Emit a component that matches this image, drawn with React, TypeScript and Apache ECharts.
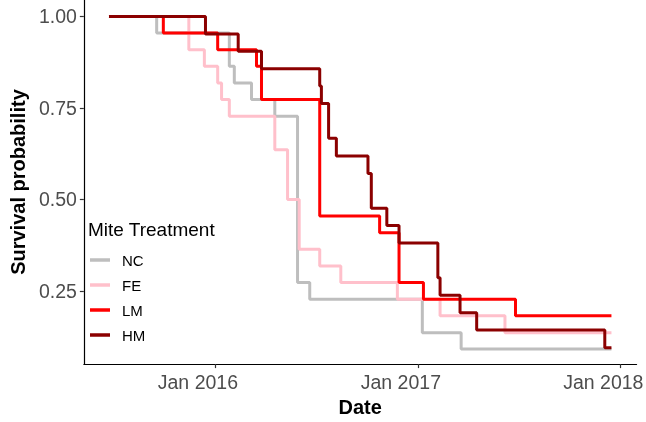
import React, { useEffect, useRef } from "react";
import * as echarts from "echarts";

// Kaplan-Meier step curves: event dates and survival after each event
const GROUPS = ["NC", "FE", "LM", "HM"];
const COLORS = ["#BEBEBE", "#FFC0CB", "#FF0000", "#8B0000"];

const NC_DATES = ["2015-06-24", "2015-09-18", "2016-01-27", "2016-02-05", "2016-03-07", "2016-04-18", "2016-05-29", "2016-06-20", "2017-01-09", "2017-03-20", "2017-12-16"];
const NC_SURV = [1, 0.955, 0.864, 0.818, 0.773, 0.727, 0.273, 0.227, 0.136, 0.091, 0.091];

const FE_DATES = ["2015-06-24", "2015-11-15", "2015-12-13", "2016-01-06", "2016-01-13", "2016-01-27", "2016-04-18", "2016-05-11", "2016-06-01", "2016-07-08", "2016-08-15", "2016-11-25", "2017-02-10", "2017-06-07", "2017-12-16"];
const FE_SURV = [1, 0.909, 0.864, 0.818, 0.773, 0.727, 0.636, 0.5, 0.364, 0.318, 0.273, 0.227, 0.182, 0.136, 0.136];

const LM_DATES = ["2015-06-24", "2015-09-30", "2016-01-06", "2016-03-16", "2016-03-25", "2016-07-08", "2016-10-24", "2016-11-28", "2017-01-11", "2017-06-26", "2017-12-16"];
const LM_SURV = [1, 0.955, 0.909, 0.864, 0.773, 0.455, 0.409, 0.273, 0.227, 0.182, 0.182];

const HM_DATES = ["2015-06-24", "2015-12-15", "2016-02-12", "2016-03-25", "2016-07-08", "2016-07-11", "2016-07-24", "2016-08-07", "2016-10-03", "2016-10-09", "2016-11-06", "2016-11-28", "2017-02-06", "2017-02-10", "2017-03-18", "2017-04-17", "2017-12-04", "2017-12-16"];
const HM_SURV = [1, 0.952, 0.905, 0.857, 0.81, 0.762, 0.667, 0.619, 0.571, 0.476, 0.429, 0.381, 0.286, 0.238, 0.19, 0.143, 0.095, 0.095];

const X_TICKS = ["2016-01-01", "2017-01-01", "2018-01-01"];
const Y_TICKS = [0.25, 0.5, 0.75, 1.0];

const ALL_DATES = [NC_DATES, FE_DATES, LM_DATES, HM_DATES];
const ALL_SURV = [NC_SURV, FE_SURV, LM_SURV, HM_SURV];

const FONT = "'Liberation Sans', Arial, Helvetica, sans-serif";

export default function App() {
  const ref = useRef<HTMLDivElement>(null);
  useEffect(() => {
    if (!ref.current) return;
    const chart = echarts.init(ref.current, undefined, { renderer: "svg" });
    const stamps = ALL_DATES.flat().map((d) => Date.parse(d));
    const tMin = Math.min(...stamps);
    const tMax = Math.max(...stamps);
    const pad = (tMax - tMin) * 0.05;

    const series = GROUPS.map((name, gi) => ({
      name,
      type: "line",
      step: "end",
      showSymbol: false,
      symbol: "none",
      color: COLORS[gi],
      lineStyle: { width: 3, color: COLORS[gi] },
      data: ALL_DATES[gi].map((d, i) => [Date.parse(d), ALL_SURV[gi][i]]),
      z: 2 + gi,
    }));

    chart.setOption({
      animation: false,
      textStyle: { fontFamily: FONT },
      grid: { left: 69, top: 0, width: 571, height: 378, containLabel: false },
      xAxis: {
        type: "value",
        min: tMin - pad,
        max: tMax + pad,
        name: "Date",
        nameLocation: "middle",
        nameGap: 25,
        nameTextStyle: { fontSize: 20, fontWeight: "bold", color: "#000", fontFamily: FONT },
        splitLine: { show: false },
        axisLine: { lineStyle: { color: "#000", width: 1.2 } },
        axisTick: {
          show: true,
          length: 4,
          lineStyle: { color: "#333", width: 1.2 },
          customValues: X_TICKS.map((d) => Date.parse(d)),
        },
        axisLabel: {
          fontSize: 19.5,
          color: "#4D4D4D",
          margin: 8,
          padding: [0, 34, 0, 0],
          fontFamily: FONT,
          customValues: X_TICKS.map((d) => Date.parse(d)),
          formatter: (v: number) => "Jan " + new Date(v).getUTCFullYear(),
        },
      },
      yAxis: {
        type: "value",
        min: 0.05,
        max: 1.045,
        name: "Survival probability",
        nameLocation: "middle",
        nameGap: 50,
        nameTextStyle: { fontSize: 20, fontWeight: "bold", color: "#000", fontFamily: FONT },
        splitLine: { show: false },
        axisLine: { show: true, lineStyle: { color: "#000", width: 1.2 } },
        axisTick: {
          show: true,
          length: 4,
          lineStyle: { color: "#333", width: 1.2 },
          customValues: Y_TICKS,
        },
        axisLabel: {
          fontSize: 19.5,
          color: "#4D4D4D",
          margin: 7,
          fontFamily: FONT,
          customValues: Y_TICKS,
          formatter: (v: number) => v.toFixed(2),
        },
      },
      legend: {
        data: GROUPS,
        orient: "vertical",
        left: 90,
        top: 251.5,
        padding: 0,
        itemWidth: 20,
        itemHeight: 3.5,
        itemGap: 8,
        icon: "rect",
        selectedMode: false,
        textStyle: { fontSize: 15, color: "#000", lineHeight: 17, padding: [0, 0, 0, 7], fontFamily: FONT },
      },
      graphic: [
        {
          type: "text",
          x: 88,
          y: 229,
          style: {
            text: "Mite Treatment",
            fontSize: 19,
            fill: "#000",
            fontFamily: FONT,
            textVerticalAlign: "middle",
          },
        },
      ],
      series,
    });
    return () => chart.dispose();
  }, []);
  return <div ref={ref} style={{ position: "fixed", left: 0, top: 0, width: 646, height: 422 }} />;
}
